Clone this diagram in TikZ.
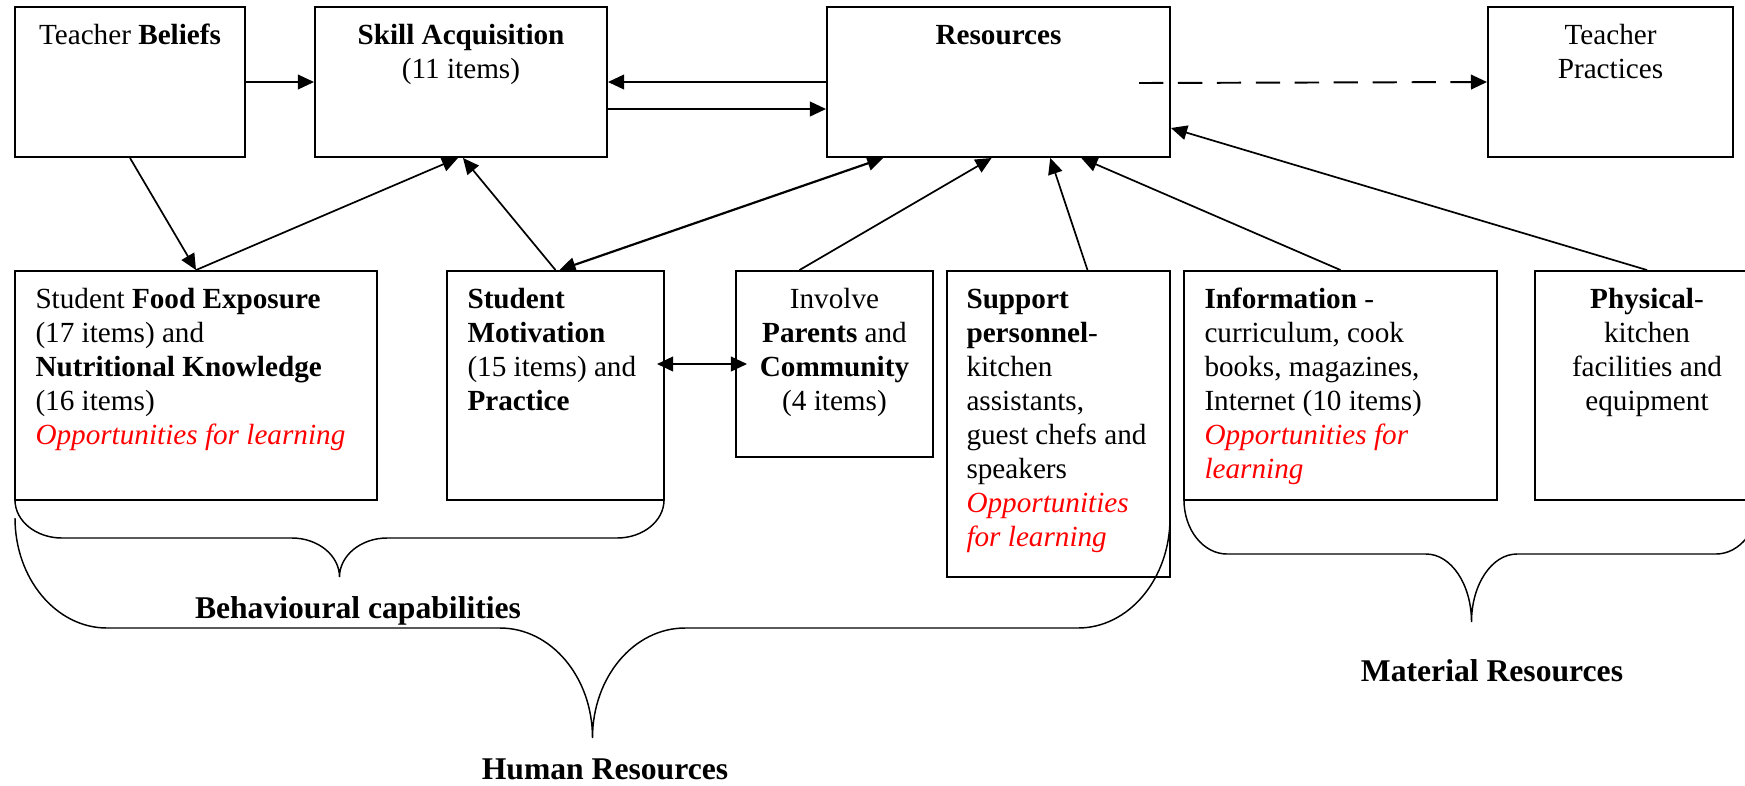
\documentclass[tikz,border=0pt]{standalone}
\usepackage{fontspec}
\setmainfont{Liberation Serif}
\usetikzlibrary{arrows.meta,calc,fit}
\newcommand\oppl[1]{\textcolor{red}{\itshape #1}}
\begin{document}
\begin{tikzpicture}[
  x=0.411pt, y=-0.411pt,
  >={Triangle[length=6.6pt,width=6pt]},
  box/.style={draw, line width=0.8pt, inner sep=0pt},
  txt/.style={inner sep=0pt, font=\fontsize{12}{14}\selectfont},
  ctxt/.style={txt, align=center, anchor=north},
  ltxt/.style={txt, align=left, anchor=north west},
  link/.style={->, line width=0.7pt},
  blink/.style={<->, line width=0.8pt},
  brace/.style={line width=0.6pt},
  lbl/.style={inner sep=0pt, anchor=base, font=\fontsize{13}{15}\selectfont\bfseries}
]
\path[use as bounding box, clip] (0,0) rectangle (1745,785);
\fill[white] (0,0) rectangle (1745,785);

% boxes
\node[box, fit={(15,7) (245,157)}] (tb) {};
\node[box, fit={(315,7) (607,157)}] (sa) {};
\node[box, fit={(827,7) (1170,157)}] (res) {};
\node[box, fit={(1488,7) (1733,157)}] (tp) {};
\node[box, fit={(15,271) (377,500)}] (fe) {};
\node[box, fit={(447,271) (664,500)}] (sm) {};
\node[box, fit={(736,271) (933,457)}] (ip) {};
\node[box, fit={(947,271) (1170,577)}] (sp) {};
\node[box, fit={(1184,271) (1497,500)}] (inf) {};
\node[box, fit={(1535,271) (1759,500)}] (ph) {};

% box texts
\node[ctxt] (tbt) at ($(tb.north)+(0,14)$) {\strut Teacher \textbf{Beliefs}};
\node[ctxt] (sat) at ($(sa.north)+(0,14)$) {\strut\textbf{Skill Acquisition}\\(11 items)};
\node[ctxt] (rest) at ($(res.north)+(0,14)$) {\strut\textbf{Resources}};
\node[ctxt] (tpt) at ($(tp.north)+(0,14)$) {\strut Teacher\\Practices};
\node[ltxt] (fet) at ($(fe.north west)+(21,14)$) {\strut Student \textbf{Food Exposure}\\(17 items) and\\\textbf{Nutritional Knowledge}\\(16 items)\\\oppl{Opportunities for learning}};
\node[ltxt] (smt) at ($(sm.north west)+(21,14)$) {\strut\textbf{Student}\\\textbf{Motivation}\\(15 items) and\\\textbf{Practice}};
\node[ctxt] (ipt) at ($(ip.north)+(0,14)$) {\strut Involve\\\textbf{Parents} and\\\textbf{Community}\\(4 items)};
\node[ltxt] (spt) at ($(sp.north west)+(20,14)$) {\strut\textbf{Support}\\\textbf{personnel}-\\kitchen\\assistants,\\guest chefs and\\speakers\\\oppl{Opportunities}\\\oppl{for learning}};
\node[ltxt] (inft) at ($(inf.north west)+(21,14)$) {\strut\textbf{Information} -\\curriculum, cook\\books, magazines,\\Internet (10 items)\\\oppl{Opportunities for}\\\oppl{learning}};
\node[ctxt] (pht) at ($(ph.north)+(0,14)$) {\strut\textbf{Physical}-\\kitchen\\facilities and\\equipment};

% group labels
\node[lbl] (bc) at (358,618) {Behavioural capabilities};
\node[lbl] (hr) at (605,779) {Human Resources};
\node[lbl] (mr) at (1492,681) {Material Resources};

% connectors
\draw[link] (tb.east) -- (sa.west);
\draw[link, line width=0.8pt] (res.west) -- (sa.east);
\draw[link, line width=0.8pt] ($(sa.east)+(0,27)$) -- ($(res.west)+(0,27)$);
\coordinate (dstart) at (1139,83);
\draw[link, dash pattern=on 10pt off 6pt, line width=0.8pt] (dstart) -- (tp.west);
\draw[link] (tb.south) -- (fe.north);
\draw[link] (fe.north) -- ($(sa.south)+(-3,0)$);
\draw[link] (sm.north) -- ($(sa.south)+(2,0)$);
\draw[blink, line width=0.9pt] ($(sm.north)+(4,0)$) -- ($(res.south west)!0.166!(res.south east)$);
\draw[link] ($(ip.north)+(-35,0)$) -- ($(res.south west)!0.48!(res.south east)$);
\draw[link] ($(sp.north)+(29,0)$) -- ($(res.south west)!0.65!(res.south east)$);
\draw[link] (inf.north) -- ($(res.south west)!0.74!(res.south east)$);
\draw[link] (ph.north) -- ($(res.east)+(0,46)$);
\draw[blink] ($(sm.east |- ip.west)+(-8,0)$) -- ($(ip.west)+(12,0)$);

% braces
\draw[brace] (15,500) .. controls (15,521) and (36,538) .. (62,538) -- (292,538)
  .. controls (318,538) and (339.5,555.5) .. (339.5,577)
  .. controls (339.5,555.5) and (361,538) .. (387,538) -- (617,538)
  .. controls (643,538) and (664,521) .. (664,500);
\draw[brace] (15,518) .. controls (15,578.75) and (56.2,628) .. (107,628) -- (500,628)
  .. controls (551,628) and (592.5,677) .. (592.5,738)
  .. controls (592.5,677) and (634,628) .. (685,628) -- (1078,628)
  .. controls (1128.8,628) and (1170,578.75) .. (1170,518);
\draw[brace] (1184,500) .. controls (1184,529.8) and (1203.3,554) .. (1227,554) -- (1426,554)
  .. controls (1451.1,554) and (1471.5,584.4) .. (1471.5,622)
  .. controls (1471.5,584.4) and (1491.9,554) .. (1517,554) -- (1716,554)
  .. controls (1739.7,554) and (1759,529.8) .. (1759,500);
\end{tikzpicture}
\end{document}
